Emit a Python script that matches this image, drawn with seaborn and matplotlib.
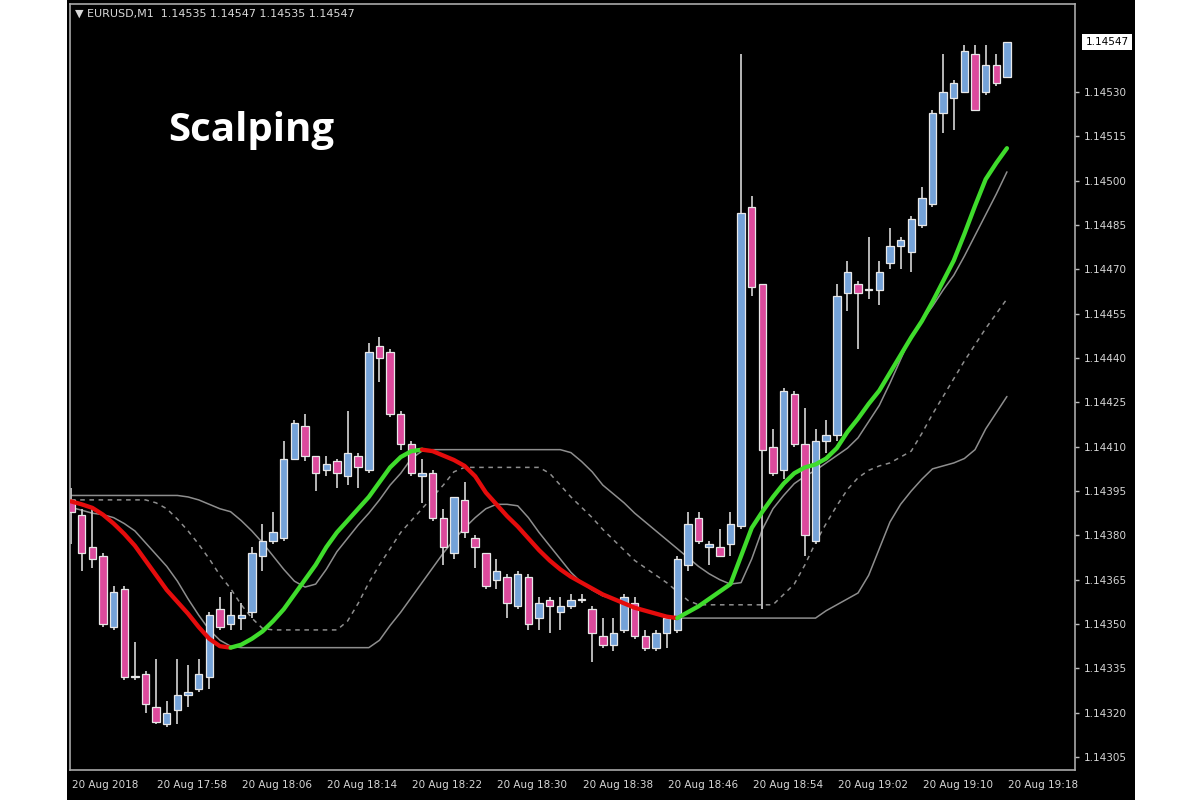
import numpy as np
import pandas as pd
import matplotlib
matplotlib.use("Agg")
import matplotlib.pyplot as plt
import matplotlib.transforms as mtransforms
from matplotlib.patches import Rectangle
import seaborn as sns

# EURUSD M1 candles, 20 Aug 2018 17:50 - 19:18 (one bar per minute)
opens = [1.14392, 1.14387, 1.14376, 1.14373, 1.14349, 1.14362, 1.14332, 1.14333, 1.14322, 1.14316,
         1.14321, 1.14326, 1.14328, 1.14332, 1.14355, 1.14350, 1.14352, 1.14354, 1.14373, 1.14378,
         1.14379, 1.14406, 1.14417, 1.14407, 1.14402, 1.14405, 1.14400, 1.14407, 1.14402, 1.14444,
         1.14442, 1.14421, 1.14411, 1.14400, 1.14401, 1.14386, 1.14374, 1.14392, 1.14379, 1.14374,
         1.14365, 1.14366, 1.14356, 1.14366, 1.14352, 1.14358, 1.14354, 1.14356, 1.14358, 1.14355,
         1.14346, 1.14343, 1.14348, 1.14357, 1.14346, 1.14342, 1.14347, 1.14348, 1.14370, 1.14386,
         1.14376, 1.14376, 1.14377, 1.14383, 1.14491, 1.14465, 1.14410, 1.14402, 1.14428, 1.14411,
         1.14378, 1.14412, 1.14414, 1.14462, 1.14465, 1.14463, 1.14463, 1.14472, 1.14478, 1.14476,
         1.14485, 1.14492, 1.14523, 1.14528, 1.14530, 1.14543, 1.14530, 1.14539, 1.14535]
highs = [1.14396, 1.14389, 1.14390, 1.14374, 1.14363, 1.14363, 1.14344, 1.14334, 1.14338, 1.14324,
         1.14338, 1.14336, 1.14338, 1.14354, 1.14359, 1.14361, 1.14357, 1.14376, 1.14384, 1.14388,
         1.14412, 1.14419, 1.14421, 1.14407, 1.14407, 1.14406, 1.14422, 1.14408, 1.14445, 1.14447,
         1.14443, 1.14422, 1.14412, 1.14406, 1.14402, 1.14389, 1.14393, 1.14398, 1.14380, 1.14374,
         1.14372, 1.14367, 1.14368, 1.14367, 1.14359, 1.14359, 1.14359, 1.14360, 1.14360, 1.14356,
         1.14352, 1.14352, 1.14360, 1.14359, 1.14348, 1.14348, 1.14353, 1.14373, 1.14388, 1.14388,
         1.14378, 1.14382, 1.14388, 1.14543, 1.14495, 1.14465, 1.14416, 1.14430, 1.14429, 1.14423,
         1.14416, 1.14419, 1.14465, 1.14473, 1.14466, 1.14481, 1.14473, 1.14484, 1.14481, 1.14488,
         1.14498, 1.14524, 1.14543, 1.14534, 1.14546, 1.14546, 1.14546, 1.14543, 1.14547]
lows = [1.14377, 1.14368, 1.14369, 1.14349, 1.14348, 1.14331, 1.14331, 1.14320, 1.14316, 1.14315,
        1.14316, 1.14322, 1.14327, 1.14328, 1.14348, 1.14348, 1.14348, 1.14352, 1.14368, 1.14377,
        1.14378, 1.14406, 1.14405, 1.14395, 1.14400, 1.14396, 1.14397, 1.14396, 1.14401, 1.14432,
        1.14420, 1.14409, 1.14400, 1.14391, 1.14385, 1.14370, 1.14372, 1.14379, 1.14369, 1.14362,
        1.14362, 1.14352, 1.14355, 1.14348, 1.14348, 1.14347, 1.14348, 1.14355, 1.14357, 1.14337,
        1.14342, 1.14341, 1.14347, 1.14345, 1.14341, 1.14341, 1.14342, 1.14347, 1.14368, 1.14377,
        1.14370, 1.14373, 1.14373, 1.14382, 1.14461, 1.14355, 1.14400, 1.14399, 1.14410, 1.14373,
        1.14377, 1.14408, 1.14412, 1.14456, 1.14443, 1.14460, 1.14458, 1.14470, 1.14470, 1.14469,
        1.14484, 1.14491, 1.14516, 1.14517, 1.14530, 1.14524, 1.14529, 1.14532, 1.14535]
closes = [1.14388, 1.14374, 1.14372, 1.14350, 1.14361, 1.14332, 1.14332, 1.14323, 1.14317, 1.14320,
          1.14326, 1.14327, 1.14333, 1.14353, 1.14349, 1.14353, 1.14353, 1.14374, 1.14378, 1.14381,
          1.14406, 1.14418, 1.14407, 1.14401, 1.14404, 1.14401, 1.14408, 1.14403, 1.14442, 1.14440,
          1.14421, 1.14411, 1.14401, 1.14401, 1.14386, 1.14376, 1.14393, 1.14381, 1.14376, 1.14363,
          1.14368, 1.14357, 1.14367, 1.14350, 1.14357, 1.14356, 1.14356, 1.14358, 1.14358, 1.14347,
          1.14343, 1.14347, 1.14359, 1.14346, 1.14342, 1.14347, 1.14352, 1.14372, 1.14384, 1.14378,
          1.14377, 1.14373, 1.14384, 1.14489, 1.14464, 1.14409, 1.14401, 1.14429, 1.14411, 1.14380,
          1.14412, 1.14414, 1.14461, 1.14469, 1.14462, 1.14463, 1.14469, 1.14478, 1.14480, 1.14487,
          1.14494, 1.14523, 1.14530, 1.14533, 1.14544, 1.14524, 1.14539, 1.14533, 1.14547]

# thick trend line (red falling / green rising)
trend_ma = [1.143915, 1.143905, 1.143893, 1.14387, 1.14384, 1.143805, 1.143765, 1.143715, 1.143665, 1.143615,
            1.143575, 1.143535, 1.14349, 1.14345, 1.143425, 1.14342, 1.14343, 1.14345, 1.143475, 1.14351,
            1.14355, 1.14360, 1.14365, 1.14370, 1.14376, 1.14381, 1.14385, 1.14389, 1.14393, 1.14398,
            1.14403, 1.144065, 1.144085, 1.14409, 1.144085, 1.14407, 1.144055, 1.144035, 1.14400, 1.143945,
            1.143905, 1.143865, 1.14383, 1.14379, 1.14375, 1.143715, 1.143685, 1.14366, 1.14364, 1.14362,
            1.14360, 1.143585, 1.14357, 1.143555, 1.143545, 1.143535, 1.143525, 1.14352, 1.14354, 1.14356,
            1.143585, 1.14361, 1.143635, 1.14373, 1.143825, 1.14388, 1.14393, 1.143975, 1.14401, 1.14403,
            1.14404, 1.14406, 1.144095, 1.14415, 1.144195, 1.144245, 1.14429, 1.14435, 1.14441, 1.14447,
            1.144525, 1.14459, 1.14466, 1.14473, 1.14482, 1.144915, 1.145005, 1.14506, 1.14511]

# grey channel lines
upper_line = [1.143935, 1.143935, 1.143935, 1.143935, 1.143935, 1.143935, 1.143935, 1.143935, 1.143935, 1.143935,
              1.143935, 1.14393, 1.14392, 1.143905, 1.14389, 1.14388, 1.14385, 1.143815, 1.143775, 1.14373,
              1.143685, 1.143645, 1.143625, 1.143635, 1.143685, 1.143745, 1.14379, 1.143835, 1.143875, 1.14392,
              1.14397, 1.14401, 1.14406, 1.144085, 1.14409, 1.14409, 1.14409, 1.14409, 1.14409, 1.14409,
              1.14409, 1.14409, 1.14409, 1.14409, 1.14409, 1.14409, 1.14409, 1.14408, 1.14405, 1.144015,
              1.14397, 1.14394, 1.14391, 1.143875, 1.143845, 1.143815, 1.143785, 1.143755, 1.143725, 1.143695,
              1.14367, 1.14365, 1.143635, 1.14364, 1.14372, 1.14382, 1.14389, 1.143935, 1.143975, 1.14400,
              1.14402, 1.144045, 1.14407, 1.144095, 1.14413, 1.144185, 1.14424, 1.144315, 1.144395, 1.144475,
              1.144525, 1.144575, 1.14463, 1.14468, 1.144745, 1.144815, 1.144885, 1.144955, 1.14503]
middle_line = [1.14392, 1.14392, 1.14392, 1.14392, 1.14392, 1.14392, 1.14392, 1.14392, 1.14391, 1.14389,
               1.143855, 1.143815, 1.14377, 1.14372, 1.143665, 1.14362, 1.143565, 1.14352, 1.143485, 1.14348,
               1.14348, 1.14348, 1.14348, 1.14348, 1.14348, 1.14348, 1.14351, 1.14357, 1.14364, 1.14370,
               1.143755, 1.14381, 1.14385, 1.14389, 1.14393, 1.14397, 1.144015, 1.14403, 1.14403, 1.14403,
               1.14403, 1.14403, 1.14403, 1.14403, 1.14403, 1.14401, 1.14397, 1.14393, 1.143895, 1.14386,
               1.14382, 1.143785, 1.14375, 1.143715, 1.14369, 1.143665, 1.14364, 1.14361, 1.14358, 1.143565,
               1.143565, 1.143565, 1.143565, 1.143565, 1.143565, 1.143565, 1.143565, 1.14360, 1.143635, 1.14370,
               1.143775, 1.14384, 1.14390, 1.143955, 1.143995, 1.14402, 1.144035, 1.144045, 1.144065, 1.144085,
               1.144145, 1.14421, 1.14427, 1.14433, 1.14439, 1.144445, 1.14450, 1.14455, 1.14460]
lower_line = [1.143895, 1.143885, 1.143875, 1.14387, 1.14386, 1.14384, 1.143815, 1.143775, 1.143735, 1.143695,
              1.143645, 1.143585, 1.14353, 1.14348, 1.143445, 1.143425, 1.14342, 1.14342, 1.14342, 1.14342,
              1.14342, 1.14342, 1.14342, 1.14342, 1.14342, 1.14342, 1.14342, 1.14342, 1.14342, 1.143445,
              1.143495, 1.14354, 1.14359, 1.14364, 1.14369, 1.14374, 1.143785, 1.143825, 1.14386, 1.14389,
              1.143905, 1.143905, 1.14390, 1.14386, 1.14381, 1.143765, 1.14372, 1.143675, 1.14364, 1.143615,
              1.143595, 1.143585, 1.14357, 1.14356, 1.143545, 1.143535, 1.143525, 1.14352, 1.14352, 1.14352,
              1.14352, 1.14352, 1.14352, 1.14352, 1.14352, 1.14352, 1.14352, 1.14352, 1.14352, 1.14352,
              1.14352, 1.143545, 1.143565, 1.143585, 1.143605, 1.143665, 1.143755, 1.143845, 1.143905, 1.14395,
              1.14399, 1.144025, 1.144035, 1.144045, 1.14406, 1.14409, 1.14416, 1.144215, 1.14427]

price_ticks = [1.14305, 1.14320, 1.14335, 1.14350, 1.14365, 1.14380, 1.14395, 1.14410, 1.14425,
               1.14440, 1.14455, 1.14470, 1.14485, 1.14500, 1.14515, 1.14530]
time_tick_bars = [0, 8, 16, 24, 32, 40, 48, 56, 64, 72, 80, 88]
time_labels = ["20 Aug 2018", "20 Aug 17:58", "20 Aug 18:06", "20 Aug 18:14", "20 Aug 18:22",
               "20 Aug 18:30", "20 Aug 18:38", "20 Aug 18:46", "20 Aug 18:54", "20 Aug 19:02",
               "20 Aug 19:10", "20 Aug 19:18"]
last_price = 1.14547
header = "\u25bc EURUSD,M1  1.14535 1.14547 1.14535 1.14547"

df = pd.DataFrame({"bar": np.arange(len(opens)), "open": opens, "high": highs,
                   "low": lows, "close": closes, "ma": trend_ma,
                   "upper": upper_line, "middle": middle_line, "lower": lower_line})

sns.set_theme(style="dark")
plt.rcParams['font.family'] = ['DejaVu Sans']

fig = plt.figure(figsize=(12, 8), dpi=100)
fig.patch.set_facecolor("white")
fig.patches.append(Rectangle((67 / 1200, 0), (1135 - 67) / 1200, 1, transform=fig.transFigure,
                             facecolor="black", edgecolor="none", zorder=-5))
ax = fig.add_axes([70 / 1200, 30 / 800, 1005 / 1200, 766 / 800])
ax.set_zorder(2)
ax.set_facecolor("black")
ax.grid(False)

# grey channel
grey = "#8e8e8e"
sns.lineplot(data=df, x="bar", y="upper", color=grey, lw=1.1, ax=ax, zorder=1)
sns.lineplot(data=df, x="bar", y="middle", color=grey, lw=1.1, linestyle=(0, (3, 3)), ax=ax, zorder=1)
sns.lineplot(data=df, x="bar", y="lower", color=grey, lw=1.1, ax=ax, zorder=1)

# candles
up = df["close"] >= df["open"]
ax.vlines(df["bar"], df["low"], df["high"], color="#c6c6c6", lw=1.3, zorder=2)
body_low = np.minimum(df["open"], df["close"])
body_h = np.maximum((df["close"] - df["open"]).abs(), 0.000003)
ax.bar(df["bar"], body_h, bottom=body_low, width=0.7,
       color=np.where(up, "#74a2d8", "#dc4a9c"), edgecolor="#e8e8e8", linewidth=0.9, zorder=3)

# trend line coloured by direction
rising = np.diff(df["ma"].values) > 0
start = 0
for j in range(1, len(rising) + 1):
    if j == len(rising) or rising[j] != rising[start]:
        seg = df.iloc[start:j + 1]
        sns.lineplot(data=seg, x="bar", y="ma", color="#3fdc2c" if rising[start] else "#e50c0c",
                     lw=3.1, ax=ax, zorder=5, solid_capstyle="round")
        start = j

ax.set_xlim(-0.1, 94.4)
ax.set_ylim(1.143006, 1.145598)
ax.set_xlabel("")
ax.set_ylabel("")

ax.yaxis.tick_right()
ax.set_yticks(price_ticks)
ax.set_yticklabels([f"{p:.5f}" for p in price_ticks])
ax.set_xticks(time_tick_bars)
ax.set_xticklabels(time_labels, ha="left")
ax.tick_params(axis="both", direction="out", length=3, width=1, color="#bdbdbd",
               labelcolor="#d6d6d6", labelsize=7.5)
ax.tick_params(axis="y", pad=3)
ax.tick_params(axis="x", pad=4)
offset = mtransforms.ScaledTranslation(1 / 100, 0, fig.dpi_scale_trans)
for lab in ax.get_xticklabels():
    lab.set_transform(lab.get_transform() + offset)

for sp in ax.spines.values():
    sp.set_color("#a9a9a9")
    sp.set_linewidth(1.2)

# current price box
trans = mtransforms.blended_transform_factory(ax.transAxes, ax.transData)
ax.text(1.0105, last_price, f"{last_price:.5f}", transform=trans, ha="left", va="center",
        fontsize=7.5, color="black", zorder=10, clip_on=False,
        bbox=dict(boxstyle="square,pad=0.3", fc="white", ec="none"))

fig.text(75 / 1200, 1 - 14 / 800, header, fontsize=8, color="#d8d8d8", va="center", ha="left", zorder=5)
fig.text(168 / 1200, 1 - 141 / 800, "Scalping", fontsize=29, fontweight="bold",
         family=["Open Sans", "DejaVu Sans"], color="white", va="baseline", ha="left", zorder=5)

fig.savefig("out.png", dpi=100, facecolor=fig.get_facecolor())
